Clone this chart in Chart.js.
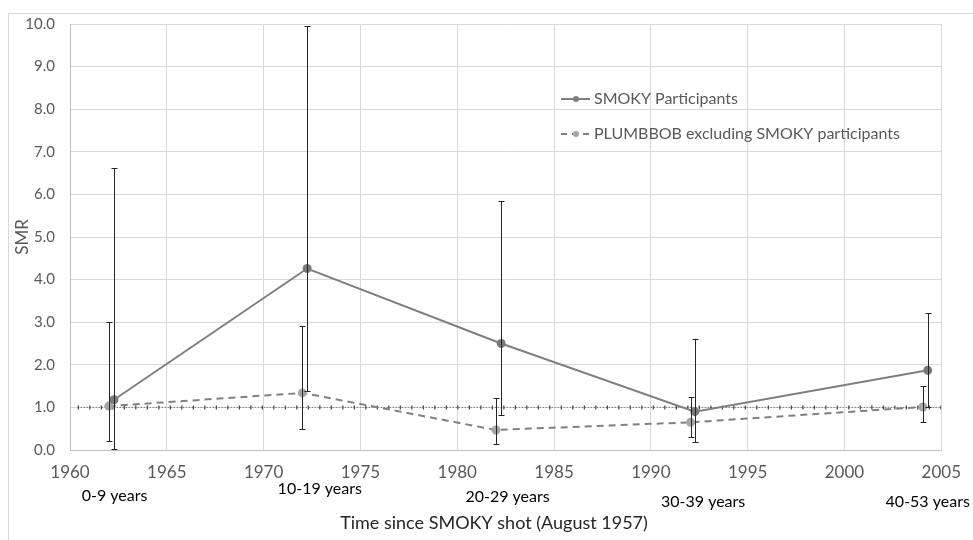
<!DOCTYPE html>
<html>
<head>
<meta charset="utf-8">
<script src="https://cdn.jsdelivr.net/npm/chart.js@4"></script>
<style>
  html, body { margin: 0; padding: 0; background: #fff; }
  #wrap { width: 973px; height: 540px; position: relative; }
</style>
</head>
<body>
<div id="wrap"><canvas id="smrChart"></canvas></div>
<script>
// Données
const categories = ['0-9 years', '10-19 years', '20-29 years', '30-39 years', '40-53 years'];
const categoryYears = [1962.3, 1972.9, 1982.6, 1992.7, 2004.3];

const smokyYears = [1962.27, 1972.25, 1982.27, 1992.27, 2004.3];
const smokySmr = [1.18, 4.26, 2.50, 0.90, 1.87];
const smokyLow = [0.02, 1.38, 0.81, 0.18, 1.00];
const smokyHigh = [6.62, 9.95, 5.84, 2.61, 3.21];

const plumbbobYears = [1962.0, 1972.0, 1982.0, 1992.05, 2004.05];
const plumbbobSmr = [1.03, 1.34, 0.47, 0.65, 1.01];
const plumbbobLow = [0.20, 0.49, 0.13, 0.30, 0.65];
const plumbbobHigh = [3.00, 2.90, 1.22, 1.24, 1.50];

const refYears = [1960.4, 2005];
const refSmr = [1, 1];

const yTicks = [0, 1, 2, 3, 4, 5, 6, 7, 8, 9, 10];

const toPoints = (xs, ys) => xs.map((x, i) => ({ x: x, y: ys[i] }));

const FONT = 'Lato, "Open Sans", sans-serif';

// Barres d'erreur, cadre, légende et étiquettes de période
const extrasPlugin = {
    id: 'extras',
    beforeDraw(chart) {
        const ctx = chart.ctx;
        ctx.save();
        ctx.strokeStyle = '#d9d9d9';
        ctx.lineWidth = 1;
        ctx.strokeRect(8.5, 13.5, 1000, 600);
        ctx.restore();
    },
    afterDatasetsDraw(chart) {
        const ctx = chart.ctx;
        const xs = chart.scales.x;
        const ys = chart.scales.y;

        function errorBars(years, low, high) {
            ctx.save();
            ctx.strokeStyle = '#262626';
            ctx.lineWidth = 1;
            years.forEach((yr, i) => {
                const px = Math.round(xs.getPixelForValue(yr)) + 0.5;
                const top = ys.getPixelForValue(high[i]);
                const bot = ys.getPixelForValue(low[i]);
                ctx.beginPath();
                ctx.moveTo(px, top); ctx.lineTo(px, bot);
                ctx.moveTo(px - 3, Math.round(top) + 0.5); ctx.lineTo(px + 3, Math.round(top) + 0.5);
                ctx.moveTo(px - 3, Math.round(bot) + 0.5); ctx.lineTo(px + 3, Math.round(bot) + 0.5);
                ctx.stroke();
            });
            ctx.restore();
        }
        errorBars(plumbbobYears, plumbbobLow, plumbbobHigh);
        errorBars(smokyYears, smokyLow, smokyHigh);

        // Étiquettes de période sous l'axe
        const labelOffsets = [46, 39, 47, 52, 52];
        ctx.save();
        ctx.fillStyle = '#000';
        ctx.font = '16px ' + FONT;
        ctx.textAlign = 'center';
        ctx.textBaseline = 'middle';
        categories.forEach((c, i) => {
            ctx.fillText(c, xs.getPixelForValue(categoryYears[i]), ys.bottom + labelOffsets[i]);
        });

        // Titre de l'axe X
        ctx.fillStyle = '#262626';
        ctx.font = '18px ' + FONT;
        ctx.fillText('Time since SMOKY shot (August 1957)', 494, 523);

        // Légende
        ctx.font = '16px ' + FONT;
        ctx.textAlign = 'left';
        ctx.fillStyle = '#595959';
        ctx.fillText('SMOKY Participants', 594, 99);
        ctx.fillText('PLUMBBOB excluding SMOKY participants', 594, 134);
        ctx.strokeStyle = '#7f7f7f';
        ctx.lineWidth = 2;
        ctx.beginPath(); ctx.moveTo(561, 99); ctx.lineTo(590, 99); ctx.stroke();
        ctx.fillStyle = '#7f7f7f';
        ctx.beginPath(); ctx.arc(576, 99, 3, 0, Math.PI * 2); ctx.fill();
        ctx.setLineDash([6, 5]);
        ctx.beginPath(); ctx.moveTo(561, 134); ctx.lineTo(590, 134); ctx.stroke();
        ctx.setLineDash([]);
        ctx.fillStyle = '#a5a5a5';
        ctx.beginPath(); ctx.arc(576, 134, 3, 0, Math.PI * 2); ctx.fill();
        ctx.restore();
    }
};

document.addEventListener('DOMContentLoaded', function () {
    const ctx = document.getElementById('smrChart').getContext('2d');

    new Chart(ctx, {
        type: 'scatter',
        data: {
            datasets: [
                {
                    label: 'ref dots',
                    data: toPoints(refYears, refSmr),
                    showLine: true,
                    borderColor: '#595959',
                    borderWidth: 1,
                    borderDash: [1, 2],
                    pointRadius: 0,
                    order: 5
                },
                {
                    label: 'ref ticks',
                    data: toPoints(refYears, refSmr),
                    showLine: true,
                    borderColor: '#404040',
                    borderWidth: 4,
                    borderDash: [1.2, 10.3],
                    borderCapStyle: 'butt',
                    pointRadius: 0,
                    order: 4
                },
                {
                    label: 'PLUMBBOB excluding SMOKY participants',
                    data: toPoints(plumbbobYears, plumbbobSmr),
                    showLine: true,
                    borderColor: '#808080',
                    borderWidth: 2,
                    borderDash: [7, 5],
                    pointRadius: 4.5,
                    pointBackgroundColor: '#a5a5a5',
                    pointBorderWidth: 0,
                    order: 2
                },
                {
                    label: 'SMOKY Participants',
                    data: toPoints(smokyYears, smokySmr),
                    showLine: true,
                    borderColor: '#7f7f7f',
                    borderWidth: 2,
                    pointRadius: 4.5,
                    pointBackgroundColor: '#7a7a7a',
                    pointBorderWidth: 0,
                    order: 1
                }
            ]
        },
        options: {
            responsive: true,
            maintainAspectRatio: false,
            animation: false,
            layout: { padding: { top: 24, right: 24, left: 0, bottom: 0 } },
            plugins: {
                legend: { display: false },
                tooltip: { enabled: false }
            },
            scales: {
                x: {
                    type: 'linear',
                    min: 1960,
                    max: 2005,
                    afterFit: (scale) => { scale.height = 90; },
                    ticks: {
                        stepSize: 5,
                        padding: 12,
                        color: '#595959',
                        font: { family: FONT, size: 17 },
                        callback: (v) => String(v)
                    },
                    grid: { color: '#d9d9d9', drawTicks: false },
                    border: { color: '#bfbfbf' }
                },
                y: {
                    min: 0,
                    max: 10,
                    afterFit: (scale) => { scale.width = 70; },
                    afterBuildTicks: (scale) => { scale.ticks = yTicks.map(v => ({ value: v })); },
                    ticks: {
                        padding: 15,
                        color: '#595959',
                        font: { family: FONT, size: 15 },
                        callback: (v) => Number(v).toFixed(1)
                    },
                    grid: { color: '#d9d9d9', drawTicks: false },
                    border: { color: '#bfbfbf' },
                    title: {
                        display: true,
                        text: 'SMR',
                        color: '#595959',
                        font: { family: FONT, size: 17 },
                        padding: { top: 12, bottom: 0 }
                    }
                }
            }
        },
        plugins: [extrasPlugin]
    });
});
</script>
</body>
</html>
